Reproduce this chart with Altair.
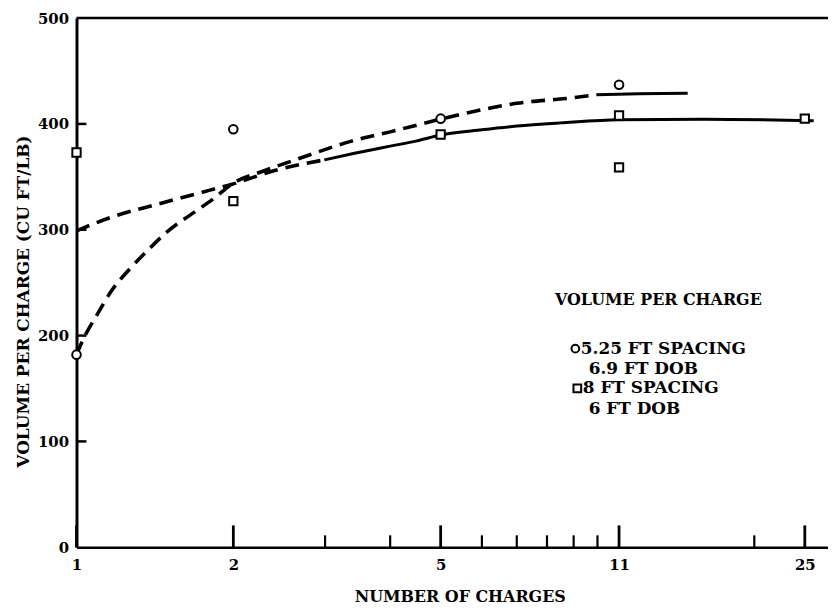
import altair as alt
import pandas as pd

FONT = "DejaVu Serif"

# ---- data ----
circle_x = [1, 2, 5, 11]
circle_y = [182, 395, 405, 437]

square_x = [1, 2, 5, 11, 11, 25]
square_y = [373, 327, 390, 408, 359, 405]

# fitted curve for the 5.25 ft spacing series (dashed part, then solid part)
c_dash_x = [1, 1.036, 1.09, 1.17, 1.26, 1.36, 1.5, 1.665, 1.845, 1.985, 2.3, 2.7, 3.36, 4.0, 4.95, 5.7, 6.3, 7.0, 8.7, 9.95]
c_dash_y = [182, 199, 218, 243, 262, 279, 299, 315, 330.5, 343, 356, 368, 383.5, 392.5, 404, 411, 415.5, 419.5, 424, 427.5]
c_solid_x = [9.95, 12, 14.9]
c_solid_y = [427.5, 428.5, 429]

# fitted curve for the 8 ft spacing series (dashed part, then solid part)
s_dash_x = [1, 1.16, 1.44, 1.79, 1.99, 2.4, 2.99]
s_dash_y = [299, 311.5, 324.5, 337, 343, 356, 366]
s_solid_x = [2.99, 3.4, 4.0, 4.5, 5, 6, 7, 8.5, 11, 16, 26]
s_solid_y = [366, 372, 379, 384, 389.5, 394.5, 398, 401, 404, 404.5, 403]

x_major = [1, 2, 5, 11, 25]
x_minor = [3, 4, 6, 7, 8, 9, 10, 20]
y_ticks = [100, 200, 300, 400]
y_labels = [0, 100, 200, 300, 400, 500]

xscale = alt.Scale(type="log", domain=[1, 27.7], nice=False)
yscale = alt.Scale(domain=[0, 500], nice=False, zero=False)

x_axis = alt.Axis(
    values=x_major, format="d", ticks=False, tickSize=0, grid=False,
    labelFont=FONT, labelFontSize=15, labelFontWeight="bold", labelColor="black",
    labelPadding=10, labelFlush=False, labelOverlap=False,
    domainColor="black", domainWidth=2.5,
    title="NUMBER OF CHARGES", titleFont=FONT, titleFontSize=16, titleFontWeight="bold",
    titleColor="black", titleX=386, titleY=50, titleBaseline="middle", titleAlign="center",
)
y_axis = alt.Axis(
    values=y_labels, format="d", ticks=False, tickSize=0, grid=False,
    labelFont=FONT, labelFontSize=15, labelFontWeight="bold", labelColor="black",
    labelPadding=8, labelFlush=False, labelOverlap=False,
    domainColor="black", domainWidth=3,
    title="VOLUME PER CHARGE (CU FT/LB)", titleFont=FONT, titleFontSize=17, titleFontWeight="bold",
    titleColor="black", titleX=-53, titleY=285, titleBaseline="middle", titleAlign="center",
)

def enc():
    return dict(
        x=alt.X("x:Q", scale=xscale, axis=x_axis),
        y=alt.Y("y:Q", scale=yscale, axis=y_axis),
    )

def df(xs, ys):
    return pd.DataFrame({"x": xs, "y": ys})

border = alt.Chart(pd.DataFrame({"y": [500]})).mark_rule(color="black", strokeWidth=2.5).encode(
    y=alt.Y("y:Q", scale=yscale, axis=y_axis)
)

def line(xs, ys, dashed):
    kw = dict(color="black", interpolate="monotone")
    if dashed:
        kw.update(strokeWidth=3.6, strokeDash=[14, 8])
    else:
        kw.update(strokeWidth=3)
    return alt.Chart(df(xs, ys)).mark_line(**kw).encode(**enc())

lines = [
    line(c_dash_x, c_dash_y, True),
    line(c_solid_x, c_solid_y, False),
    line(s_dash_x, s_dash_y, True),
    line(s_solid_x, s_solid_y, False),
]

xmaj = alt.Chart(df(x_major, [0] * len(x_major))).mark_tick(
    orient="vertical", size=22, thickness=2.8, yOffset=-11, color="black", opacity=1
).encode(**enc())

xmin = alt.Chart(df(x_minor, [0] * len(x_minor))).mark_tick(
    orient="vertical", size=12, thickness=2.2, yOffset=-6, color="black", opacity=1
).encode(**enc())

yt = alt.Chart(df([1] * len(y_ticks), y_ticks)).mark_tick(
    orient="horizontal", size=10, thickness=2.5, xOffset=5, color="black", opacity=1
).encode(**enc())

circles = alt.Chart(df(circle_x, circle_y)).mark_point(
    shape="circle", filled=True, fill="white", stroke="black", strokeWidth=2, size=75, opacity=1
).encode(**enc())

squares = alt.Chart(df(square_x, square_y)).mark_point(
    shape="square", filled=True, fill="white", stroke="black", strokeWidth=2, size=70, opacity=1
).encode(**enc())

def label(text, px, py, fs):
    return alt.Chart(pd.DataFrame({"t": [text]})).mark_text(
        align="left", baseline="middle", font=FONT, fontSize=fs, fontWeight="bold", color="black"
    ).encode(text="t:N", x=alt.value(px), y=alt.value(py))

legend = [
    label("VOLUME PER CHARGE", 482, 284, 16),
    label("5.25 FT SPACING", 508, 333, 17),
    label("6.9 FT DOB", 516, 353, 17),
    label("8 FT SPACING", 510, 373, 17),
    label("6 FT DOB", 516, 394, 17),
]
leg_circle = alt.Chart(pd.DataFrame({"a": [0]})).mark_point(
    shape="circle", filled=True, fill="white", stroke="black", strokeWidth=2, size=60, opacity=1
).encode(x=alt.value(502.5), y=alt.value(333))
leg_square = alt.Chart(pd.DataFrame({"a": [0]})).mark_point(
    shape="square", filled=True, fill="white", stroke="black", strokeWidth=2, size=60, opacity=1
).encode(x=alt.value(504.5), y=alt.value(373))

chart = alt.layer(
    border, xmaj, xmin, yt, *lines, circles, squares, *legend, leg_circle, leg_square
).properties(
    width=757, height=533,
    autosize=alt.AutoSizeParams(type="none"),
    padding={"left": 69, "top": 8, "right": 0, "bottom": 56},
    background="white",
).configure_view(stroke=None)

chart.save("out.html", embed_options={"renderer": "svg", "actions": False})
